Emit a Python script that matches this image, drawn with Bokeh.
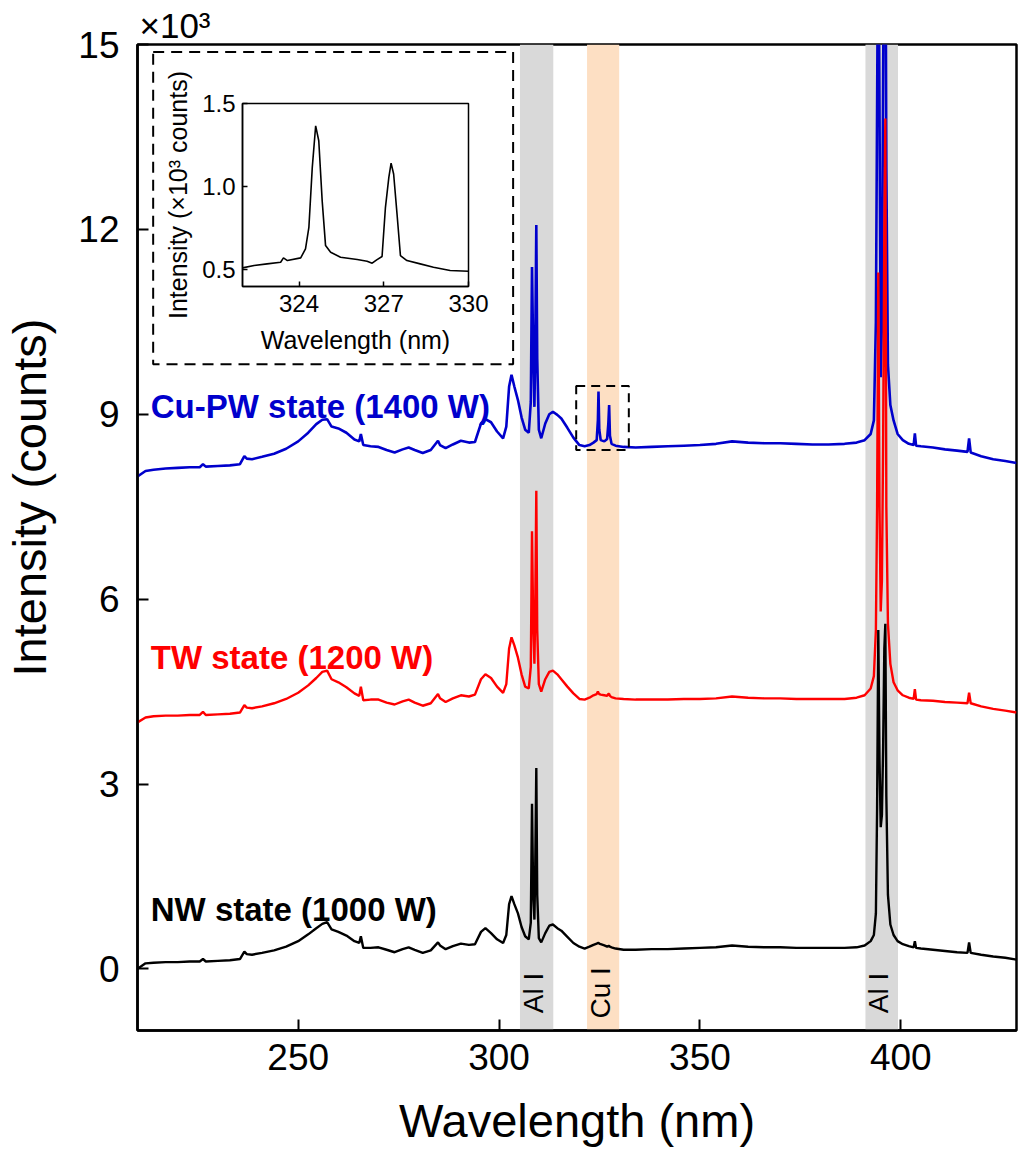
import numpy as np
from bokeh.plotting import figure
from bokeh.models import Range1d, FixedTicker, Title, Label, BoxAnnotation, PrintfTickFormatter
from bokeh.embed import file_html
from bokeh.resources import INLINE
from bokeh.core.properties import value

FONT = "Liberation Sans"

# ---------------- data ----------------
wavelength = [
    210, 212, 214, 217, 220, 223, 225.5, 226.3, 227, 230,
    233, 235.5, 236.6, 237.2, 238.5, 241, 244, 247, 250, 252.5,
    254.5, 256, 257.2, 258.3, 260, 262, 264, 265.2, 265.6, 266.2,
    268, 270, 272, 274, 276, 277.5, 279, 281, 283, 284.8,
    285.3, 286.7, 288.5, 290.5, 292.5, 294, 295.5, 296.6, 298, 299.5,
    301, 301.8, 302.5, 303.1, 303.8, 304.7, 305.6, 306.5, 307.4, 307.9,
    308.2, 308.5, 308.8, 309.0, 309.27, 309.5, 309.9, 310.5, 311.5, 312.5,
    313.4, 314.5, 315.5, 317, 318.5, 320, 321.3, 322.5, 323.5, 324.3,
    324.6, 324.75, 324.95, 325.3, 326.2, 326.9, 327.2, 327.4, 327.6, 328,
    329, 331, 334, 338, 342, 346, 350, 354, 358, 362,
    366, 370, 374, 378, 382, 386, 389, 391, 392.5, 393.3,
    393.8, 394.1, 394.4, 394.7, 395.0, 395.3, 395.6, 395.9, 396.15, 396.4,
    396.8, 397.4, 398.2, 399.2, 400.5, 402, 403.2, 403.5, 403.8, 405,
    408, 411, 414, 416.6, 417.0, 417.4, 420, 423, 426, 428.8,
]

# intensities in units of 10^3 counts
nw_1000W = [
    0.00, 0.09, 0.10, 0.11, 0.11, 0.12, 0.12, 0.16, 0.12, 0.13,
    0.14, 0.16, 0.28, 0.24, 0.23, 0.26, 0.30, 0.36, 0.45, 0.56,
    0.66, 0.73, 0.76, 0.64, 0.60, 0.54, 0.45, 0.42, 0.53, 0.34,
    0.34, 0.35, 0.31, 0.27, 0.32, 0.35, 0.31, 0.26, 0.30, 0.43,
    0.38, 0.32, 0.37, 0.41, 0.39, 0.40, 0.60, 0.66, 0.58, 0.48,
    0.42, 0.55, 1.05, 1.18, 1.05, 0.90, 0.68, 0.53, 0.48, 0.75,
    2.68, 1.20, 0.80, 1.60, 3.26, 1.20, 0.50, 0.43, 0.58, 0.70,
    0.72, 0.66, 0.62, 0.52, 0.42, 0.36, 0.33, 0.36, 0.39, 0.41,
    0.42, 0.42, 0.41, 0.40, 0.38, 0.36, 0.37, 0.37, 0.36, 0.35,
    0.33, 0.31, 0.31, 0.32, 0.32, 0.33, 0.34, 0.35, 0.38, 0.36,
    0.35, 0.35, 0.34, 0.34, 0.34, 0.34, 0.35, 0.38, 0.45, 0.55,
    0.90, 2.60, 5.50, 3.40, 2.30, 2.50, 3.60, 5.20, 5.60, 2.80,
    1.20, 0.72, 0.55, 0.45, 0.40, 0.37, 0.35, 0.45, 0.34, 0.33,
    0.31, 0.29, 0.27, 0.26, 0.43, 0.26, 0.23, 0.20, 0.18, 0.15,
]

tw_1200W = [
    4.00, 4.08, 4.10, 4.11, 4.11, 4.12, 4.12, 4.17, 4.12, 4.13,
    4.14, 4.16, 4.28, 4.24, 4.23, 4.26, 4.31, 4.38, 4.48, 4.60,
    4.72, 4.82, 4.84, 4.70, 4.65, 4.57, 4.47, 4.43, 4.58, 4.36,
    4.37, 4.37, 4.32, 4.29, 4.34, 4.37, 4.32, 4.27, 4.31, 4.46,
    4.39, 4.33, 4.39, 4.44, 4.42, 4.45, 4.70, 4.78, 4.72, 4.58,
    4.48, 4.62, 5.20, 5.38, 5.25, 5.05, 4.78, 4.58, 4.55, 4.90,
    7.10, 5.60, 4.95, 5.80, 7.76, 5.50, 4.62, 4.50, 4.70, 4.82,
    4.84, 4.78, 4.70, 4.58, 4.47, 4.38, 4.37, 4.40, 4.44, 4.46,
    4.50, 4.48, 4.46, 4.45, 4.44, 4.43, 4.46, 4.46, 4.43, 4.41,
    4.39, 4.38, 4.37, 4.37, 4.37, 4.38, 4.38, 4.39, 4.42, 4.40,
    4.39, 4.39, 4.38, 4.38, 4.38, 4.38, 4.40, 4.44, 4.55, 4.75,
    5.50, 7.50, 11.30, 7.50, 5.80, 6.30, 8.50, 12.00, 13.80, 7.50,
    5.60, 4.95, 4.65, 4.52, 4.44, 4.40, 4.38, 4.54, 4.37, 4.36,
    4.35, 4.33, 4.32, 4.31, 4.48, 4.31, 4.26, 4.22, 4.19, 4.16,
]

cupw_1400W = [
    7.99, 8.08, 8.10, 8.12, 8.13, 8.14, 8.14, 8.19, 8.15, 8.16,
    8.17, 8.19, 8.32, 8.28, 8.27, 8.31, 8.36, 8.44, 8.56, 8.70,
    8.84, 8.91, 8.92, 8.80, 8.77, 8.70, 8.59, 8.56, 8.68, 8.50,
    8.48, 8.47, 8.42, 8.38, 8.43, 8.46, 8.42, 8.37, 8.42, 8.57,
    8.50, 8.45, 8.51, 8.57, 8.54, 8.55, 8.85, 8.92, 8.87, 8.72,
    8.61, 8.80, 9.45, 9.64, 9.45, 9.23, 8.95, 8.75, 8.70, 9.20,
    11.39, 10.00, 9.12, 10.00, 12.07, 9.90, 8.75, 8.61, 8.85, 9.00,
    9.04, 8.99, 8.93, 8.78, 8.62, 8.50, 8.48, 8.50, 8.54, 8.58,
    8.90, 9.37, 8.75, 8.58, 8.56, 8.60, 8.85, 9.15, 8.65, 8.52,
    8.49, 8.47, 8.46, 8.47, 8.48, 8.49, 8.50, 8.52, 8.56, 8.54,
    8.53, 8.53, 8.52, 8.51, 8.51, 8.52, 8.54, 8.58, 8.68, 8.90,
    10.50, 14.00, 17.50, 14.00, 9.60, 10.50, 14.50, 17.50, 18.00, 13.00,
    9.80, 9.15, 8.90, 8.68, 8.58, 8.52, 8.50, 8.69, 8.49, 8.48,
    8.46, 8.43, 8.41, 8.39, 8.61, 8.38, 8.32, 8.27, 8.24, 8.21,
]

inset_wavelength = [
    322.0, 322.41, 322.87, 323.35, 323.45, 323.59, 324.06, 324.23, 324.35, 324.47,
    324.59, 324.70, 324.82, 324.94, 325.12, 325.47, 326.06, 326.41, 326.59, 326.75,
    326.94, 327.06, 327.18, 327.26, 327.35, 327.47, 327.59, 327.82, 328.29, 328.76,
    329.35, 330.0,
]
inset_intensity = [
    0.512, 0.526, 0.536, 0.546, 0.572, 0.556, 0.572, 0.626, 0.756, 1.116,
    1.366, 1.276, 0.916, 0.646, 0.606, 0.576, 0.562, 0.552, 0.540, 0.560,
    0.580, 0.876, 1.056, 1.142, 1.076, 0.836, 0.586, 0.556, 0.536, 0.516,
    0.496, 0.492,
]

band_start = [305.2, 321.9, 391.2]
band_end = [313.5, 329.9, 399.3]
band_label = ["Al I", "Cu I", "Al I"]

series_names = ["Cu-PW state (1400 W)", "TW state (1200 W)", "NW state (1000 W)"]

x_ticks = [250, 300, 350, 400]
y_ticks = [0, 3, 6, 9, 12, 15]
inset_x_ticks = [324, 327, 330]
inset_y_ticks = [0.5, 1.0, 1.5]

assert len(wavelength) == len(nw_1000W) == len(tw_1200W) == len(cupw_1400W)
assert len(inset_wavelength) == len(inset_intensity)

# ---------------- styles ----------------
series_colors = ["#0000CC", "#FF0000", "#000000"]
series_widths = [2.6, 2.4, 2.4]
band_colors = ["#D9D9D9", "#FDDFC3", "#D9D9D9"]

# ---------------- main figure ----------------
p = figure(width=1019, height=1158,
           x_range=Range1d(210, 428.8), y_range=Range1d(-1, 15),
           output_backend="svg", toolbar_location=None,
           min_border_left=137, min_border_right=3,
           min_border_top=44, min_border_bottom=128)
p.background_fill_color = "white"
p.border_fill_color = "white"
p.xgrid.visible = False
p.ygrid.visible = False
p.outline_line_color = "black"
p.outline_line_width = 2.5
p.outline_line_alpha = 1

for s, e, c in zip(band_start, band_end, band_colors):
    p.add_layout(BoxAnnotation(left=s, right=e, fill_color=c, fill_alpha=1,
                               line_alpha=0, level="underlay"))

band_centers = [(s + e) / 2 - 0.7 for s, e in zip(band_start, band_end)]
p.text(x=band_centers, y=[-0.39] * len(band_label), text=band_label,
       angle=np.pi / 2, text_align="center", text_baseline="middle",
       text_font=value(FONT), text_font_size="28px", text_color="black")

for ys, col, lw in zip([cupw_1400W, tw_1200W, nw_1000W], series_colors, series_widths):
    p.line(wavelength, ys, line_color=col, line_width=lw)

label_y = [9.13, 5.06, 0.96]
for name, col, ly in zip(series_names, series_colors, label_y):
    p.add_layout(Label(x=213.3, y=ly, text=name, text_color=col,
                       text_font=FONT, text_font_size="33px",
                       text_font_style="bold", text_baseline="alphabetic"))

# dashed boxes (inset frame + zoomed region)
p.add_layout(BoxAnnotation(left=213.9, right=303.5, bottom=9.81, top=14.88,
                           fill_alpha=0, line_color="black", line_alpha=1,
                           line_width=2, line_dash="11 7"))
p.add_layout(BoxAnnotation(left=319.2, right=332.3, bottom=8.42, top=9.46,
                           fill_alpha=0, line_color="black", line_alpha=1,
                           line_width=2, line_dash="9 6"))

p.xaxis.ticker = FixedTicker(ticks=x_ticks)
p.yaxis.ticker = FixedTicker(ticks=y_ticks)
for ax in (p.xaxis[0], p.yaxis[0]):
    ax.axis_line_width = 2.5
    ax.axis_line_color = "black"
    ax.major_tick_line_width = 2
    ax.major_tick_line_color = "black"
    ax.major_tick_in = 11
    ax.major_tick_out = 0
    ax.minor_tick_line_color = None
    ax.major_label_text_font = FONT
    ax.major_label_text_font_size = "37px"
    ax.major_label_text_color = "black"
    ax.axis_label_text_font = FONT
    ax.axis_label_text_font_style = "normal"
    ax.axis_label_text_color = "black"
p.xaxis.major_label_standoff = 13
p.yaxis.major_label_standoff = 18
p.xaxis.axis_label = "Wavelength (nm)"
p.xaxis.axis_label_text_font_size = "47px"
p.xaxis.axis_label_standoff = 21
# leading spaces lift the centred label to where the original sits
p.yaxis.axis_label = "\u2003\u2002\u2009Intensity (counts)"
p.yaxis.axis_label_text_font_size = "47px"
p.yaxis.axis_label_standoff = 19

# x10^3 multiplier above the frame
p.add_layout(Title(text="×10³", align="left", offset=2, vertical_align="bottom",
                   standoff=0, text_font=FONT, text_font_size="35px",
                   text_font_style="normal", text_color="black"), "above")

# ---------------- inset ----------------
ins = figure(width=336, height=302,
             x_range=Range1d(322, 330), y_range=Range1d(0.4, 1.5),
             output_backend="svg", toolbar_location=None,
             min_border_left=82, min_border_right=28,
             min_border_top=47, min_border_bottom=72,
             styles={"position": "absolute", "left": "160px", "top": "56px"})
ins.border_fill_alpha = 0
ins.background_fill_color = "white"
ins.xgrid.visible = False
ins.ygrid.visible = False
ins.outline_line_color = "black"
ins.outline_line_width = 1.5
ins.outline_line_alpha = 1
ins.line(inset_wavelength, inset_intensity, line_color="black", line_width=1.6)

ins.xaxis.ticker = FixedTicker(ticks=inset_x_ticks)
ins.yaxis.ticker = FixedTicker(ticks=inset_y_ticks)
ins.yaxis.formatter = PrintfTickFormatter(format="%.1f")
for ax in (ins.xaxis[0], ins.yaxis[0]):
    ax.axis_line_width = 1.5
    ax.axis_line_color = "black"
    ax.major_tick_line_width = 1.5
    ax.major_tick_line_color = "black"
    ax.major_tick_in = 5
    ax.major_tick_out = 0
    ax.minor_tick_line_color = None
    ax.major_label_text_font = FONT
    ax.major_label_text_font_size = "24px"
    ax.major_label_text_color = "black"
    ax.axis_label_text_font = FONT
    ax.axis_label_text_font_size = "25px"
    ax.axis_label_text_font_style = "normal"
    ax.axis_label_text_color = "black"
ins.xaxis.major_label_standoff = 8
ins.yaxis.major_label_standoff = 7
ins.xaxis.axis_label = "Wavelength (nm)"
ins.yaxis.axis_label = "Intensity (×10³ counts)"
ins.xaxis.axis_label_standoff = 11
ins.yaxis.axis_label_standoff = 7

open("out.html", "w").write(file_html([p, ins], INLINE))
